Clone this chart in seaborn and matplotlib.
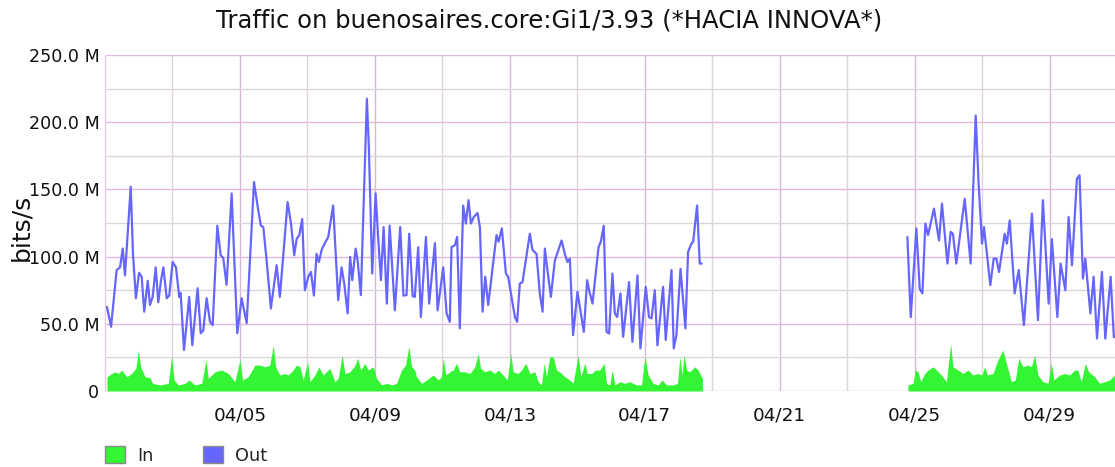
import matplotlib
matplotlib.use("Agg")
import matplotlib.pyplot as plt
import matplotlib.dates as mdates
from matplotlib.patches import Patch
from matplotlib.ticker import FixedLocator, FuncFormatter
import numpy as np
import pandas as pd
import seaborn as sns

# Hours since 04/01 00:00 and traffic in Mbit/s, two polled stretches
out_hours_a = [1.4, 4.3, 8.3, 10.7, 12.6, 14.2, 18.3, 19.9, 22.0, 24.2, 26.1, 27.9, 30.4, 32.0, 33.9,
               36.1, 37.9, 39.8, 41.5, 43.9, 45.7, 48.1, 50.5, 52.8, 53.8, 56.2, 59.9, 62.1, 65.9, 68.1,
               69.9, 72.3, 74.7, 76.6, 79.9, 82.3, 84.1, 86.5, 90.1, 94.1, 97.2, 100.8, 106.0, 109.0,
               110.9, 112.6, 115.0, 118.0, 122.1, 124.4, 129.9, 132.3, 134.6, 136.3, 138.2, 140.3, 142.2,
               144.6, 146.5, 148.6, 150.5, 152.2, 154.1, 156.4, 158.8, 162.3, 165.9, 168.3, 170.2, 172.6,
               174.4, 175.9, 178.3, 179.7, 182.0, 186.3, 187.7, 190.1, 192.5, 194.3, 196.3, 198.2, 200.5,
               202.5, 206.2, 210.0, 212.3, 214.5, 216.4, 218.9, 220.4, 222.8, 224.7, 228.3, 230.6, 234.7,
               236.6, 240.6, 243.0, 245.3, 246.5, 248.9, 250.5, 252.4, 254.8, 256.7, 258.6, 260.3, 262.4,
               265.0, 266.7, 268.6, 270.5, 272.6, 278.5, 280.0, 282.3, 285.2, 286.8, 291.6, 293.2, 295.1,
               297.0, 302.2, 304.1, 307.0, 309.3, 311.3, 312.9, 314.5, 317.2, 320.0, 324.8, 327.1, 329.0,
               330.7, 333.0, 336.1, 337.8, 340.6, 343.0, 344.4, 346.8, 351.1, 352.7, 354.8, 356.8, 358.6,
               361.0, 362.7, 364.3, 366.7, 368.6, 372.8, 375.2, 378.8, 380.9, 384.7, 387.0, 388.8, 391.1,
               393.0, 397.0, 398.9, 403.0, 404.6, 406.5, 409.4, 412.9, 414.8, 417.2, 418.4, 421.2, 423.1,
               424.5]
out_mbps_a = [62.6, 47.8, 90, 92, 106, 86, 152, 102, 69, 88, 85, 59, 82, 64, 70,
              92, 66, 82, 92, 69, 71, 96, 92, 70, 73, 30.5, 70, 34, 76.5, 43,
              45, 69, 51.5, 49, 123, 101, 99, 79, 147, 43, 69, 50.5, 155.5, 134.5,
              123, 122, 97, 61.4, 93.6, 70, 140.6, 124.6, 101, 113, 116, 128, 75,
              85, 88.6, 71, 102, 96, 105, 110, 114.6, 138, 67.6, 92, 80, 57.7,
              99.8, 82.5, 106, 97.3, 71.3, 217.5, 181.5, 87.4, 147, 114.6, 82.5, 122, 65,
              123, 60, 122, 71, 71.3, 117, 70.5, 70, 107, 55, 114.6, 65, 110,
              60, 92, 57.7, 51.5, 107, 108.5, 114.6, 46.6, 138, 124.6, 142, 124.6, 129.5,
              132.5, 122, 59, 85, 64, 116, 111, 121, 87.4, 85, 55, 51.5, 80,
              81, 117, 105, 102, 72.6, 59, 106, 92, 70, 97, 112, 102, 96,
              98.5, 41.6, 73.8, 62.6, 44, 82.5, 75, 65, 107, 111, 123, 44, 42.8,
              87.4, 57.7, 55, 72.6, 40.3, 81, 36.6, 86, 31.7, 77.5, 55, 54, 75,
              34, 77.5, 38, 90, 31.7, 41.6, 91, 46.6, 103.5, 109.7, 111, 138, 94.8,
              94.8]

out_hours_b = [570.8, 573.2, 577.2, 579.6, 581.5, 583.6, 585.5, 589.7, 593.3, 595.4, 599.3, 601.6,
               603.2, 605.6, 611.6, 615.8, 619.4, 621.5, 623.9, 625.3, 629.8, 632.2, 634.1, 636.0,
               640.0, 641.6, 643.6, 647.1, 650.0, 653.7, 659.4, 663.7, 667.2, 671.3, 673.6, 677.5,
               679.8, 683.2, 685.5, 687.9, 691.4, 693.3, 695.7, 697.4, 701.0, 703.3, 705.7, 709.2,
               711.6, 715.4, 717.7]
out_mbps_b = [114.6, 55, 121, 76, 72.6, 124.6, 116, 135.7, 112, 139.4, 94.8, 118.4,
              117, 94.8, 143, 94.8, 205, 154, 109.7, 122, 78.8, 98.5, 98.5, 88.6,
              117, 109.7, 127, 72.6, 90, 49, 132, 52.7, 142, 65, 113, 55,
              94.8, 75, 129.5, 93.6, 158, 160.5, 83.7, 98.5, 57.7, 85, 39, 88.6,
              39, 85, 40]

in_hours_a = [1.4, 4.8, 7.1, 9.5, 11.9, 15.4, 19.0, 22.0, 23.7, 25.4, 28.4, 32.0, 33.9, 39.1, 45.0,
              47.4, 49.1, 52.1, 56.9, 59.9, 64.0, 68.8, 71.8, 73.5, 78.2, 83.0, 87.7, 92.4, 96.0,
              97.9, 101.9, 106.7, 110.2, 113.8, 117.3, 119.7, 121.4, 124.4, 128.0, 130.3, 133.9,
              136.3, 138.7, 141.0, 144.1, 145.8, 149.3, 152.2, 155.2, 160.0, 163.5, 165.9, 168.7,
              170.7, 174.2, 177.3, 179.7, 182.0, 184.9, 187.2, 190.8, 193.2, 196.8, 200.3, 203.9,
              207.4, 211.0, 213.8, 216.2, 218.1, 220.4, 221.6, 225.2, 228.8, 233.5, 237.0, 239.4,
              240.6, 242.5, 245.3, 247.7, 250.1, 252.4, 256.0, 259.6, 263.1, 265.5, 267.2, 270.2,
              273.8, 277.3, 279.7, 283.2, 286.1, 288.7, 290.3, 293.9, 296.3, 299.4, 302.2, 305.8,
              308.1, 310.5, 312.4, 314.1, 316.4, 318.8, 321.2, 323.6, 327.1, 330.7, 333.0, 336.6,
              338.5, 341.3, 343.2, 346.1, 348.9, 352.0, 355.1, 356.8, 359.1, 360.8, 362.7, 366.2,
              369.8, 373.3, 378.1, 381.7, 384.0, 386.4, 389.9, 393.5, 396.3, 399.4, 404.1, 407.3,
              408.9, 410.5, 411.9, 413.7, 416.0, 419.6, 421.9, 424.3, 425.0]
in_mbps_a = [10.6, 13, 14.3, 13, 15.6, 10.6, 13, 16.9, 30.5, 18, 10.6, 9.9, 5.7, 4.5, 5.7,
             26, 8.2, 4.5, 5.7, 8.2, 4.5, 5.7, 23, 9.4, 14.3, 15.6, 13, 6.9, 23,
             8.2, 10.6, 19.3, 19.3, 18, 19.3, 34, 18, 11.9, 13, 11.9, 15.6,
             19.3, 18, 8.2, 21.8, 6.9, 11.9, 18, 11.9, 16.9, 6.9, 9.4, 26.7,
             13, 14.3, 18, 24.3, 15.6, 20.6, 15.6, 18, 9.4, 4.5, 5.7, 4.5,
             5.7, 15.6, 19.3, 33, 18, 15.6, 10.6, 5.7, 8.2, 11.9, 8.2, 10.6,
             24.3, 11.9, 14.3, 15.6, 20.6, 14.3, 14.3, 13, 18, 28, 16.9, 14.3,
             15.6, 13, 15.6, 11.9, 8.2, 28, 14.3, 13, 15.6, 20.6, 13, 14.3,
             6.9, 4.5, 20.6, 10.6, 25.5, 25.5, 15.6, 14, 10.6, 8.2, 5.7, 26.7,
             10.6, 20.6, 13, 13, 15.6, 15.6, 20.6, 5.7, 4.5, 15.6, 4.5, 6.9,
             5.7, 6.9, 4.5, 4.5, 25.5, 11.9, 5.7, 4.5, 8.2, 4.5, 4.5, 5.7,
             25.5, 11.9, 26.7, 15.6, 14.3, 18, 15.6, 10.6, 9.4]

in_hours_b = [571.2, 574.8, 576.5, 578.4, 580.3, 583.1, 585.5, 589.0, 591.5, 595.0, 598.6, 601.6,
              603.2, 606.8, 610.3, 613.9, 617.5, 621.0, 623.9, 625.8, 627.7, 631.7, 635.2, 638.8,
              641.2, 644.8, 647.6, 650.0, 653.0, 656.6, 659.0, 661.3, 663.7, 667.2, 670.8, 673.2,
              675.0, 679.1, 682.7, 686.2, 689.8, 692.1, 694.5, 697.4, 699.7, 704.0, 707.6, 711.1,
              714.7, 718.2]
in_mbps_b = [4.5, 5.7, 15.6, 14.3, 6.9, 13, 15.6, 18, 15.6, 11.9, 6.9, 35.4,
             18, 15.6, 13, 15.6, 11.9, 13, 11.9, 18, 11.9, 13, 23, 30.5,
             20.6, 6.9, 8.2, 24.3, 18, 19.3, 18, 26.7, 11.9, 6.9, 5.7, 20.6,
             8.2, 11.9, 13, 11.9, 15.6, 15.6, 6.9, 20.6, 14.3, 10.6, 5.7, 6.9,
             8.2, 11.9]

y_ticks_mbps = [0, 50, 100, 150, 200, 250]
x_tick_dates = ["04/05", "04/09", "04/13", "04/17", "04/21", "04/25", "04/29"]

YEAR = 2013
start = pd.Timestamp(f"{YEAR}-04-01")
IN_COLOR = "#33f533"
OUT_COLOR = "#6666ff"
MAJOR_GRID = "#e2b8e2"
MINOR_GRID = "#dcd6dc"


def frame(hours, mbps, series, segment):
    return pd.DataFrame({
        "time": start + pd.to_timedelta(hours, unit="h"),
        "bps": np.asarray(mbps, dtype=float) * 1e6,
        "series": series,
        "segment": segment,
    })


out_df = pd.concat([frame(out_hours_a, out_mbps_a, "Out", "a"),
                    frame(out_hours_b, out_mbps_b, "Out", "b")], ignore_index=True)
in_df = pd.concat([frame(in_hours_a, in_mbps_a, "In", "a"),
                   frame(in_hours_b, in_mbps_b, "In", "b")], ignore_index=True)

sns.set_theme(style="white")
plt.rcParams["font.family"] = ["DejaVu Sans"]

fig = plt.figure(figsize=(11.15, 4.67), dpi=100)
ax = fig.add_axes([105 / 1115, 76 / 467, 1 - 105 / 1115, 336 / 467])

# inbound traffic as a filled area per polled stretch
for seg, part in in_df.groupby("segment"):
    ax.fill_between(part["time"], 0, part["bps"], color=IN_COLOR, linewidth=0, zorder=2)

# outbound traffic as a line per polled stretch
sns.lineplot(data=out_df, x="time", y="bps", units="segment", estimator=None,
             color=OUT_COLOR, linewidth=1.6, ax=ax, zorder=3, legend=False)

ax.set_xlim(start, start + pd.Timedelta(hours=718.5))
ax.set_ylim(0, 250e6)

# vertical grid: labelled days every 4 days, lighter lines halfway between
major_days = [start + pd.Timedelta(days=int(d.split("/")[1]) - 1) for d in x_tick_dates]
minor_days = [start + pd.Timedelta(days=d) for d in range(2, 31, 4)]
ax.xaxis.set_major_locator(FixedLocator(mdates.date2num(major_days)))
ax.xaxis.set_minor_locator(FixedLocator(mdates.date2num(minor_days)))
ax.set_xticklabels(x_tick_dates)

ax.yaxis.set_major_locator(FixedLocator([v * 1e6 for v in y_ticks_mbps]))
ax.yaxis.set_minor_locator(FixedLocator([v * 1e6 + 25e6 for v in y_ticks_mbps[:-1]]))
ax.yaxis.set_major_formatter(FuncFormatter(lambda v, _: "0" if v == 0 else f"{v / 1e6:.1f} M"))

ax.grid(True, which="major", axis="y", color=MAJOR_GRID, linewidth=1.0, zorder=0)
ax.grid(True, which="minor", axis="y", color=MINOR_GRID, linewidth=1.0, zorder=0)
ax.grid(True, which="major", axis="x", color="#d4b8d4", linewidth=1.0, zorder=0)
ax.grid(True, which="minor", axis="x", color=MINOR_GRID, linewidth=1.0, zorder=0)
ax.set_axisbelow(True)

for side in ("top", "right", "bottom"):
    ax.spines[side].set_visible(False)
ax.spines["left"].set_color("#e6cce6")
ax.spines["left"].set_linewidth(1.0)

ax.tick_params(axis="both", which="both", length=0, colors="#111111")
ax.tick_params(axis="x", labelsize=13.2, pad=11)
ax.tick_params(axis="y", labelsize=12.6, pad=4)

ax.set_xlabel("")
ax.set_ylabel("")
fig.text(21 / 1115, 1 - 227 / 467, "bits/s", rotation=90, ha="center", va="center",
         fontsize=18, color="#111111")

fig.suptitle("Traffic on buenosaires.core:Gi1/3.93 (*HACIA INNOVA*)",
             x=0.4925, y=0.982, fontsize=17.5, color="#111111")

handles = [Patch(facecolor=IN_COLOR, edgecolor="#8a8a8a", linewidth=1.0),
           Patch(facecolor=OUT_COLOR, edgecolor="#8a8a8a", linewidth=1.0)]
fig.legend(handles, ["In", "Out"], loc="lower left", bbox_to_anchor=(0.085, -0.018),
           ncol=2, frameon=False, fontsize=12.8, handlelength=1.1, handleheight=1.1,
           handletextpad=0.7, columnspacing=2.78, borderaxespad=0.2)

fig.savefig("out.png", dpi=100)
